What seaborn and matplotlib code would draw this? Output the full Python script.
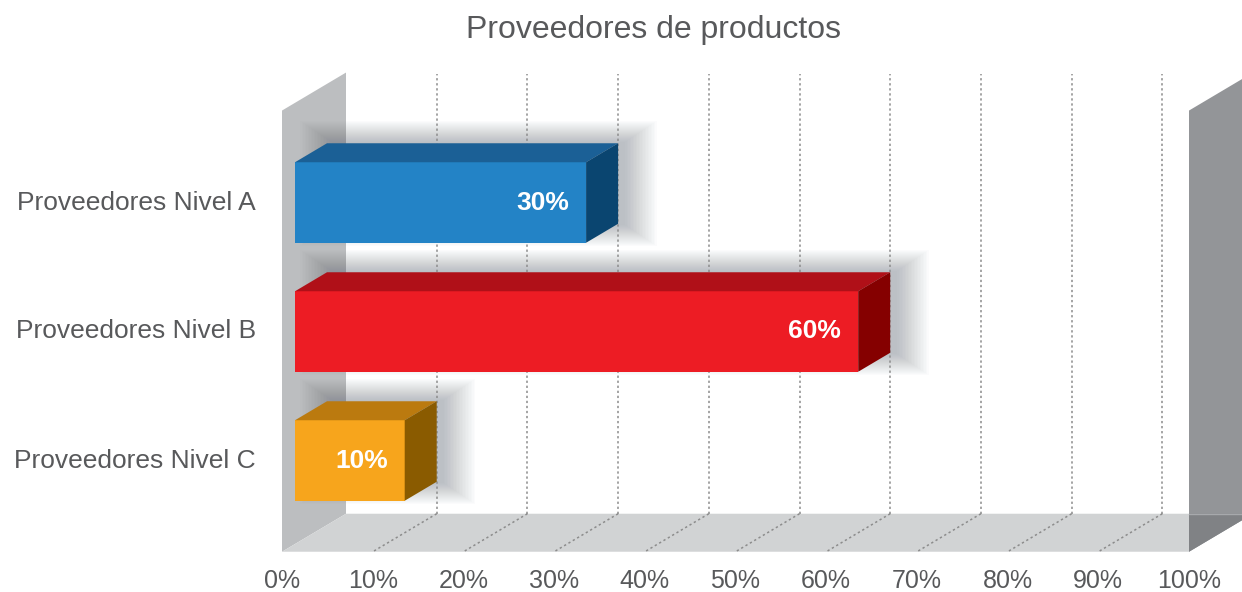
import pandas as pd
import seaborn as sns
import matplotlib.pyplot as plt
from matplotlib.patches import Polygon, Rectangle

# data
categories = ["Proveedores Nivel A", "Proveedores Nivel B", "Proveedores Nivel C"]
values = [30, 60, 10]
front_colors = ["#2383c6", "#ed1c24", "#f7a51c"]
top_colors = ["#1b6096", "#b01018", "#bb7a0f"]
side_colors = ["#0a4570", "#850000", "#8a5b00"]
ticks = [0, 10, 20, 30, 40, 50, 60, 70, 80, 90, 100]
tick_labels = [f"{t}%" for t in ticks]
title = "Proveedores de productos"

# layout (pixels of the 1242x592 picture)
W, H = 1242, 592
PX_PCT = 9.07      # pixels per percent point
X0 = 314           # pixel x of 0% on the bar front plane
Y0 = 202.5         # pixel y of the first category
PX_CAT = 129       # pixels between categories
DX = 32 / PX_PCT   # one depth step, in data units
DY = -19 / PX_CAT
FLOOR = 2.56
TOP = -0.86
TUCK = 19 / PX_PCT  # bars start slightly inside the left wall
TEXT = "#58595b"

sns.set_theme(style="white")
plt.rcParams["font.family"] = ["Liberation Sans", "DejaVu Sans"]

fig = plt.figure(figsize=(W / 100, H / 100), dpi=100)
ax = fig.add_axes([0, 0, 1, 1])


def P(v, y, d):
    # point at value v, row y, depth d (0 = bar front, 1 = back wall, -1 = floor front)
    return (v + d * DX, y + d * DY)


def poly(pts, color, z, **kw):
    ax.add_patch(Polygon(pts, closed=True, facecolor=color, edgecolor="none", zorder=z, **kw))


df = pd.DataFrame({"categoria": categories, "valor": values})
sns.barplot(data=df, x="valor", y="categoria", hue="categoria", palette=front_colors,
            saturation=1, legend=False, width=0.624, linewidth=0, ax=ax, zorder=6)

bars = ax.patches[:len(values)]
for p in bars:
    p.set_x(p.get_x() - TUCK)
    p.set_width(p.get_width() + TUCK)

ax.set_xlim(-X0 / PX_PCT, (W - X0) / PX_PCT)
ax.set_ylim((H - Y0) / PX_CAT, -Y0 / PX_CAT)
ax.axis("off")

lo, hi = ticks[0], ticks[-1]

# left wall, floor, right wall
poly([P(lo, TOP, -1), P(lo, TOP, 1), P(lo, FLOOR, 1), P(lo, FLOOR, -1)], "#bcbec0", 1)
poly([P(lo, FLOOR, -1), P(hi, FLOOR, -1), P(hi, FLOOR, 1), P(lo, FLOOR, 1)], "#d1d3d4", 1)
poly([P(hi, TOP, -1), P(hi, TOP, 1), P(hi, FLOOR, 1), P(hi, FLOOR, -1)], "#939598", 2)
a, b = P(hi, FLOOR, -1), P(hi, FLOOR, 1)
poly([a, b, (a[0], b[1])], "#808285", 2)
ax.plot([a[0], b[0] + 2], [b[1], b[1]], color="#a7a9ac", lw=1, zorder=2)

# soft shadows behind the bars
for p in bars:
    x0, y0, w, h = p.get_x(), p.get_y(), p.get_width(), p.get_height()
    for k in range(22):
        ex = (1 + 1.5 * k) / PX_PCT
        ey = (1 + 1.0 * k) / PX_CAT
        ax.add_patch(Rectangle((x0 + DX - ex + 6 / PX_PCT, y0 + DY - ey),
                               w + 2 * ex, h + 2 * ey,
                               facecolor="#5b6470", edgecolor="none", alpha=0.02, zorder=3))

# grid lines on the back wall and on the floor
for t in ticks[1:-1]:
    xb, yb = P(t, FLOOR, 1)
    xt, yt = P(t, TOP, 1)
    ax.plot([xb, xt], [yb, yt + 0.01], color="#8c8c8c", lw=1.1, ls=(0, (1.5, 1.8)), zorder=4)
    xf, yf = P(t, FLOOR, -1)
    ax.plot([xb, xf], [yb, yf], color="#8c8c8c", lw=1.1, ls=(0, (1.5, 1.8)), zorder=4)

# 3D faces of the bars and value labels
for i, p in enumerate(bars):
    x0, y0, w, h = p.get_x(), p.get_y(), p.get_width(), p.get_height()
    x1 = x0 + w
    poly([(x0, y0), (x1, y0), P(x1, y0, 1), P(x0, y0, 1)], top_colors[i], 7)
    poly([(x1, y0), P(x1, y0, 1), P(x1, y0 + h, 1), (x1, y0 + h)], side_colors[i], 7)
    ax.text(x1 - 17 / PX_PCT, y0 + h / 2, f"{values[i]}%", color="white",
            fontsize=19, fontweight="bold", ha="right", va="center", zorder=8)

# category labels
for i, c in enumerate(categories):
    ax.text(P(lo, i, -1)[0] - 26 / PX_PCT, i, c, color=TEXT, fontsize=19,
            ha="right", va="center")

# tick labels under the floor
for t, lab in zip(ticks, tick_labels):
    x, y = P(t, FLOOR, -1)
    ax.text(x, y + 29 / PX_CAT, lab, color=TEXT, fontsize=18, ha="center", va="center")

fig.text(653 / W, 1 - 30 / H, title, color=TEXT, fontsize=23, ha="center", va="center")

fig.savefig("out.png", dpi=100)
